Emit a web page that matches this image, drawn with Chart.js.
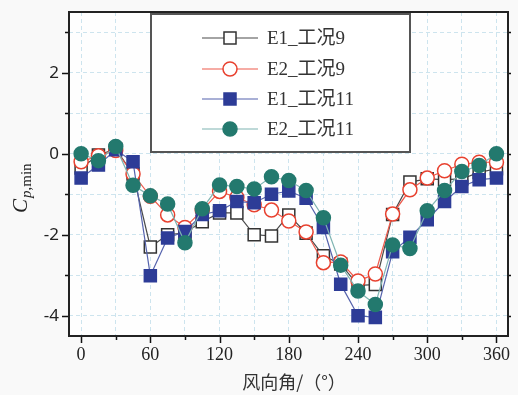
<!DOCTYPE html>
<html>
<head>
<meta charset="utf-8">
<script src="https://cdn.jsdelivr.net/npm/chart.js@4"></script>
<style>
  html, body { margin: 0; padding: 0; background: #f9f9f9; }
  #wrap { width: 518px; height: 395px; }
</style>
</head>
<body>
<div id="wrap"><canvas id="cpChart" width="518" height="395"></canvas></div>
<script>
// wind direction angles (deg)
const angles = [0, 15, 30, 45, 60, 75, 90, 105, 120, 135, 150, 165, 180, 195, 210, 225, 240, 255, 270, 285, 300, 315, 330, 345, 360];
const e1Case9 = [-0.35, -0.03, 0.12, -0.5, -2.3, -2.0, -1.95, -1.68, -1.46, -1.46, -2.0, -2.03, -1.51, -1.96, -2.52, -2.72, -3.25, -3.23, -1.5, -0.7, -0.62, -0.64, -0.62, -0.46, -0.37];
const e2Case9 = [-0.2, -0.05, 0.08, -0.5, -1.05, -1.51, -1.82, -1.4, -0.93, -1.08, -1.26, -1.39, -1.66, -1.93, -2.69, -2.67, -3.14, -2.97, -1.49, -0.89, -0.6, -0.42, -0.26, -0.21, -0.21];
const e1Case11 = [-0.6, -0.28, 0.1, -0.2, -3.01, -2.08, -1.92, -1.5, -1.41, -1.18, -1.21, -1.0, -0.92, -1.1, -1.82, -3.22, -4.0, -4.04, -2.42, -2.06, -1.63, -1.18, -0.81, -0.64, -0.6];
const e2Case11 = [0, -0.17, 0.18, -0.78, -1.04, -1.24, -2.2, -1.36, -0.77, -0.81, -0.87, -0.57, -0.66, -0.91, -1.58, -2.75, -3.39, -3.72, -2.25, -2.34, -1.41, -0.91, -0.44, -0.29, 0];
const seriesNames = ["E1_工况9", "E2_工况9", "E1_工况11", "E2_工况11"];
const xTicks = [0, 30, 60, 90, 120, 150, 180, 210, 240, 270, 300, 330, 360];
const yTicks = [-4, -3, -2, -1, 0, 1, 2, 3];

const toPts = (ys) => angles.map((a, i) => ({ x: a, y: ys[i] }));

const styles = [
  { line: "#4a4a4a", border: "#333333", fill: "#ffffff", shape: "rect", r: 8.5 },
  { line: "#ee5a4c", border: "#e8412f", fill: "#ffffff", shape: "circle", r: 7 },
  { line: "#5563ad", border: "#2d3c97", fill: "#2d3c97", shape: "rect", r: 8.5 },
  { line: "#7fb4b2", border: "#23796e", fill: "#23796e", shape: "circle", r: 7 },
];

const datasets = [e1Case9, e2Case9, e1Case11, e2Case11].map((ys, i) => ({
  label: seriesNames[i],
  data: toPts(ys),
  borderColor: styles[i].line,
  borderWidth: 1.2,
  pointStyle: styles[i].shape,
  pointRadius: styles[i].r,
  pointHoverRadius: styles[i].r,
  pointBackgroundColor: styles[i].fill,
  pointBorderColor: styles[i].border,
  pointBorderWidth: 1.5,
  tension: 0,
  order: 4 - i,
}));

function drawMarker(ctx, s, x, y) {
  ctx.save();
  ctx.fillStyle = s.fill;
  ctx.strokeStyle = s.border;
  ctx.lineWidth = 1.5;
  ctx.beginPath();
  if (s.shape === "rect") {
    const h = s.r * Math.SQRT1_2;
    ctx.rect(x - h, y - h, 2 * h, 2 * h);
  } else {
    ctx.arc(x, y, s.r, 0, Math.PI * 2);
  }
  ctx.fill();
  ctx.stroke();
  ctx.restore();
}

const decor = {
  id: "decor",
  beforeDraw(chart) {
    const { ctx, chartArea: a } = chart;
    ctx.save();
    ctx.fillStyle = "#f9f9f9";
    ctx.fillRect(0, 0, chart.width, chart.height);
    ctx.fillStyle = "#fefefe";
    ctx.fillRect(a.left, a.top, a.right - a.left, a.bottom - a.top);
    ctx.restore();
  },
  afterDraw(chart) {
    const { ctx, chartArea: a, scales } = chart;
    ctx.save();
    // tick marks
    ctx.strokeStyle = "#111";
    ctx.lineWidth = 1.5;
    xTicks.forEach((v) => {
      const px = Math.round(scales.x.getPixelForValue(v)) + 0.5;
      const len = v % 60 === 0 ? 7 : 4;
      ctx.beginPath();
      ctx.moveTo(px, a.bottom);
      ctx.lineTo(px, a.bottom + len);
      ctx.stroke();
    });
    yTicks.forEach((v) => {
      const py = Math.round(scales.y.getPixelForValue(v)) + 0.5;
      const len = v % 2 === 0 ? 7 : 4;
      ctx.beginPath();
      ctx.moveTo(a.left, py);
      ctx.lineTo(a.left - len, py);
      ctx.moveTo(a.right, py);
      ctx.lineTo(a.right + 3, py);
      ctx.stroke();
    });
    // frame
    ctx.lineWidth = 2;
    ctx.strokeStyle = "#222";
    ctx.strokeRect(a.left, a.top, a.right - a.left, a.bottom - a.top);

    // legend box
    const lx = 151, ly = 14, lw = 259, lh = 138;
    ctx.fillStyle = "#ffffff";
    ctx.fillRect(lx, ly, lw, lh);
    ctx.lineWidth = 2;
    ctx.strokeStyle = "#555";
    ctx.strokeRect(lx, ly, lw, lh);
    const rows = [38, 69, 99, 129];
    ctx.font = "19px 'Liberation Serif', 'Noto Sans CJK SC', serif";
    ctx.textBaseline = "middle";
    ctx.textAlign = "left";
    seriesNames.forEach((name, i) => {
      const s = styles[i];
      ctx.strokeStyle = s.line;
      ctx.lineWidth = 1.2;
      ctx.beginPath();
      ctx.moveTo(202, rows[i]);
      ctx.lineTo(258, rows[i]);
      ctx.stroke();
      drawMarker(ctx, s, 230, rows[i]);
      ctx.fillStyle = "#333";
      ctx.fillText(name, 267, rows[i] + 1);
    });

    // y title C_{p,min}
    ctx.save();
    ctx.translate(27, 213);
    ctx.rotate(-Math.PI / 2);
    ctx.fillStyle = "#222";
    ctx.textBaseline = "alphabetic";
    ctx.textAlign = "left";
    ctx.font = "italic 21px 'Liberation Serif', serif";
    ctx.fillText("C", 0, 0);
    let cx = ctx.measureText("C").width + 1;
    ctx.font = "italic 15px 'Liberation Serif', serif";
    ctx.fillText("p", cx, 4);
    cx += ctx.measureText("p").width;
    ctx.font = "15px 'Liberation Serif', serif";
    ctx.fillText(",min", cx, 4);
    ctx.restore();

    // x title
    ctx.fillStyle = "#333";
    ctx.font = "18px 'Noto Sans CJK SC', sans-serif";
    ctx.textAlign = "center";
    ctx.textBaseline = "middle";
    ctx.fillText("风向角/（°）", 294, 382);
    ctx.restore();
  },
};

const ctx = document.getElementById("cpChart").getContext("2d");
const cpChart = new Chart(ctx, {
  type: "line",
  data: { datasets: datasets },
  options: {
    responsive: false,
    animation: false,
    layout: { padding: { left: 0, right: 7, top: 12, bottom: 0 } },
    plugins: { legend: { display: false }, tooltip: { enabled: false } },
    scales: {
      x: {
        type: "linear",
        min: -10.5,
        max: 370,
        afterBuildTicks: (s) => { s.ticks = xTicks.map((v) => ({ value: v })); },
        afterFit: (s) => { s.height = 59; s.paddingLeft = 0; s.paddingRight = 0; },
        grid: { color: "#cde4ee", lineWidth: 1, drawTicks: false },
        border: { display: false, dash: [4, 3] },
        ticks: {
          padding: 8,
          color: "#222",
          font: { family: "'Liberation Serif', serif", size: 18 },
          maxRotation: 0,
          callback: (v) => (v % 60 === 0 ? String(v) : ""),
        },
      },
      y: {
        min: -4.5,
        max: 3.5,
        afterBuildTicks: (s) => { s.ticks = yTicks.map((v) => ({ value: v })); },
        afterFit: (s) => { s.width = 69; s.paddingTop = 0; s.paddingBottom = 0; },
        grid: { color: "#cde4ee", lineWidth: 1, drawTicks: false },
        border: { display: false, dash: [4, 3] },
        ticks: {
          padding: 10,
          color: "#222",
          font: { family: "'Noto Sans', sans-serif", size: 17 },
          callback: (v) => (v % 2 === 0 ? String(v) : ""),
        },
      },
    },
  },
  plugins: [decor],
});
</script>
</body>
</html>
